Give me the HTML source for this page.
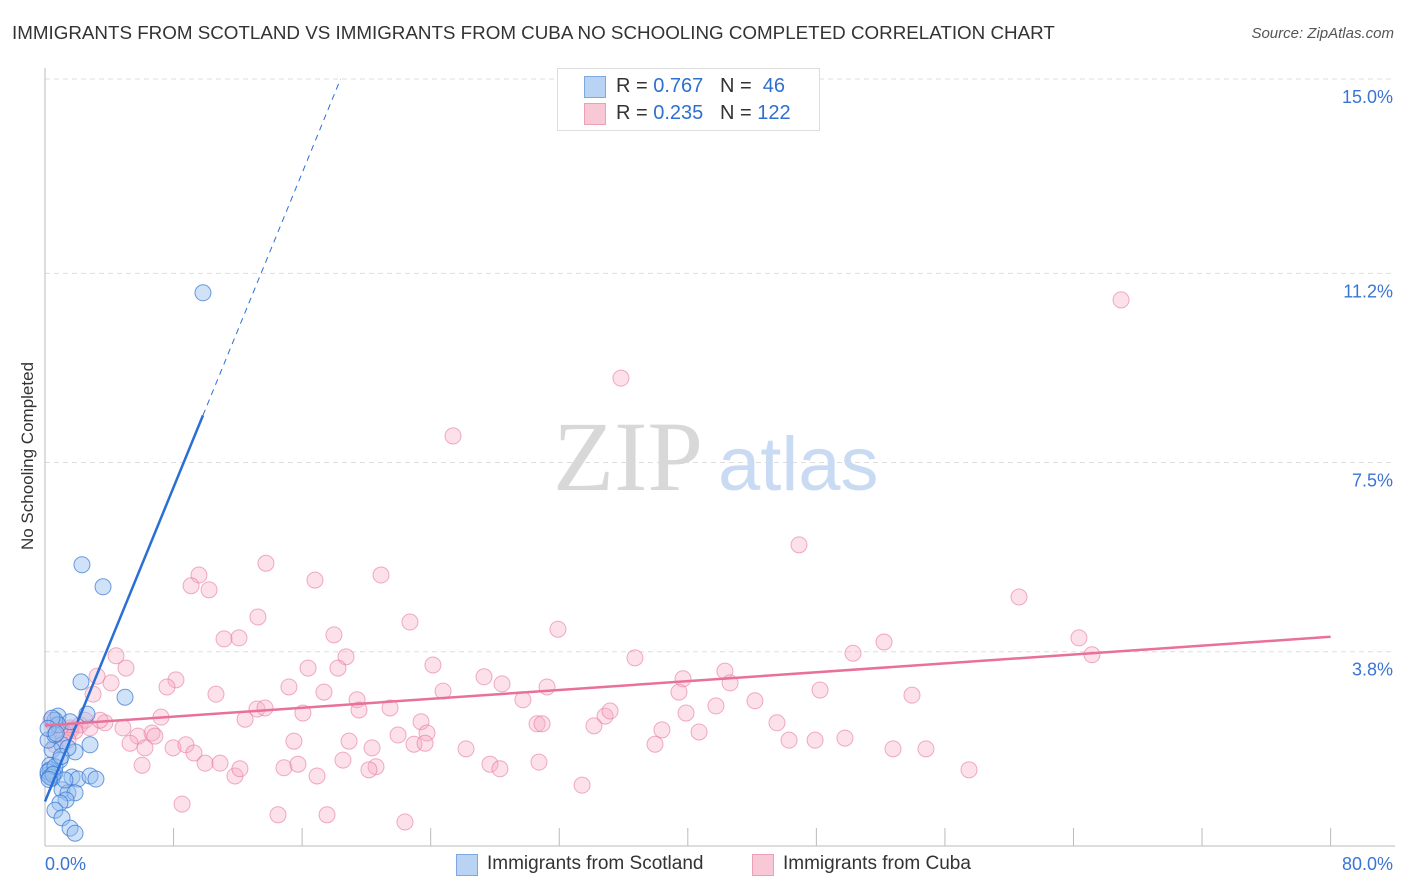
<!DOCTYPE html>
<html><head><meta charset="utf-8"><style>
body{margin:0;background:#fff;font-family:"Liberation Sans",sans-serif;}
#wrap{position:relative;width:1406px;height:892px;overflow:hidden;}
.t{position:absolute;white-space:nowrap;}
</style></head><body>
<div id="wrap">
<div class="t" style="left:12px;top:22px;font-size:18.8px;color:#333;">IMMIGRANTS FROM SCOTLAND VS IMMIGRANTS FROM CUBA NO SCHOOLING COMPLETED CORRELATION CHART</div>
<div class="t" style="right:12px;top:25px;font-size:15px;color:#555;font-style:italic;">Source: ZipAtlas.com</div>
<svg id="svg" width="1406" height="892" style="position:absolute;left:0;top:0"></svg>
<div class="t" style="left:28px;top:456px;font-size:17px;color:#333;transform:translate(-50%,-50%) rotate(-90deg);">No Schooling Completed</div>
<div style="position:absolute;left:557px;top:68px;width:261px;height:61px;border:1px solid #ddd;background:#fff;font-size:20px;">
 <div style="position:absolute;left:26px;top:7px;width:20px;height:20px;background:#b9d3f5;border:1px solid #7fa8e0;"></div>
 <div class="t" style="left:58px;top:6px;color:#333;">R = <span style="color:#2f6fd0">0.767</span>&nbsp;&nbsp;&nbsp;N = &nbsp;<span style="color:#2f6fd0">46</span></div>
 <div style="position:absolute;left:26px;top:34px;width:20px;height:20px;background:#f9c8d6;border:1px solid #eca0b6;"></div>
 <div class="t" style="left:58px;top:33px;color:#333;">R = <span style="color:#2f6fd0">0.235</span>&nbsp;&nbsp;&nbsp;N = <span style="color:#2f6fd0">122</span></div>
</div>
<div style="position:absolute;left:456px;top:852px;font-size:19px;color:#333;">
 <div style="position:absolute;left:0;top:2px;width:20px;height:20px;background:#b9d3f5;border:1px solid #7fa8e0;"></div>
 <div class="t" style="left:31px;top:1px;">Immigrants from Scotland</div>
 <div style="position:absolute;left:296px;top:2px;width:20px;height:20px;background:#f9c8d6;border:1px solid #eca0b6;"></div>
 <div class="t" style="left:327px;top:1px;">Immigrants from Cuba</div>
</div>
</div>
<script>
const yTicks=[3.8,7.5,11.2,15.0];
const yTickLabels=["3.8%","7.5%","11.2%","15.0%"];
const xTicks=[0,8,16,24,32,40,48,56,64,72,80];
const scotX=[9.83,2.30,3.61,2.24,4.98,2.61,0.81,1.56,0.62,2.80,1.06,0.44,1.87,1.43,0.31,0.62,0.19,1.68,2.05,2.80,3.17,0.44,1.06,1.43,1.87,1.31,0.93,0.62,1.06,1.56,1.87,0.19,0.62,0.93,0.31,1.24,0.81,0.19,0.31,0.44,0.62,0.19,1.0,0.5,0.25,0.7];
const scotY=[10.82,5.50,5.07,3.21,2.91,2.58,2.54,2.43,2.46,1.98,1.98,1.88,1.84,1.92,1.58,1.43,1.39,1.35,1.31,1.37,1.31,1.33,1.10,1.04,1.04,0.90,0.84,0.70,0.55,0.35,0.25,2.07,2.17,1.68,1.49,1.29,2.37,1.45,1.35,2.50,1.55,2.30,1.75,1.40,1.30,2.20];
const cubaX=[66.96,35.84,25.39,46.92,13.75,9.58,16.80,20.91,9.09,10.21,60.61,13.25,22.71,31.92,17.98,11.14,12.07,64.34,52.21,4.42,50.28,36.71,65.15,18.73,24.14,5.04,3.24,16.37,18.23,42.31,8.15,27.32,39.70,7.59,15.18,28.44,42.63,31.24,2.99,17.36,24.77,48.23,39.45,10.64,19.42,53.95,29.74,44.18,4.11,13.19,13.69,16.05,21.47,41.75,39.89,34.85,35.16,7.22,12.45,19.54,3.73,23.40,30.62,30.93,34.16,38.39,45.55,4.85,6.66,1.62,5.79,23.77,40.70,5.29,6.84,15.49,18.92,21.97,22.96,23.65,46.30,47.92,49.78,37.96,52.77,54.82,7.97,8.77,9.27,6.22,26.20,20.35,9.96,10.89,11.82,6.04,12.13,14.87,15.74,16.93,18.54,20.60,20.16,27.69,28.31,30.74,57.50,8.53,14.50,17.55,22.40,33.42,0.56,0.93,1.56,2.18,2.49,1.18,1.87,2.80,3.42,0.62,1.43,0.37];
const cubaY=[10.68,9.15,8.02,5.89,5.53,5.30,5.20,5.30,5.09,5.01,4.87,4.48,4.38,4.24,4.13,4.05,4.07,4.07,3.99,3.72,3.77,3.68,3.74,3.70,3.54,3.48,3.32,3.48,3.48,3.42,3.25,3.31,3.27,3.11,3.11,3.17,3.19,3.11,2.97,3.01,3.03,3.05,3.01,2.97,2.86,2.95,2.86,2.84,3.19,2.68,2.70,2.60,2.70,2.74,2.60,2.54,2.64,2.52,2.48,2.66,2.41,2.43,2.39,2.39,2.35,2.27,2.41,2.31,2.21,2.27,2.15,2.21,2.23,2.01,2.15,2.05,2.05,2.17,1.99,2.01,2.07,2.07,2.11,1.99,1.90,1.90,1.92,1.98,1.82,1.92,1.90,1.92,1.62,1.62,1.37,1.58,1.51,1.53,1.60,1.37,1.68,1.55,1.49,1.60,1.51,1.64,1.49,0.82,0.61,0.61,0.47,1.19,2.37,2.31,2.31,2.37,2.46,2.21,2.25,2.31,2.46,1.98,2.07,2.46];
const NS="http://www.w3.org/2000/svg";
const svg=document.getElementById('svg');
const X0=45,XPX=16.07,Y0=846,YPX=51.13;
function sx(v){return X0+v*XPX;}
function sy(v){return Y0-v*YPX;}
function mk(t,a){const e=document.createElementNS(NS,t);for(const k in a)e.setAttribute(k,a[k]);svg.appendChild(e);return e;}
yTicks.forEach((v,i)=>{
 const g=mk('line',{x1:45,x2:1395,y1:sy(v),y2:sy(v),stroke:'#ddd','stroke-dasharray':'5,4'});
 
 
 const t=mk('text',{x:1393,y:sy(v)+24,'text-anchor':'end','font-size':18,fill:'#3a75d4','font-family':'Liberation Sans, sans-serif'});
 t.textContent=yTickLabels[i];
 
 
});
const gx=mk('line',{x1:sx(0),x2:sx(0),y1:68,y2:846,stroke:'#bbb'});


const bx=mk('line',{x1:45,x2:1395,y1:846,y2:846,stroke:'#bbb'});


xTicks.forEach(v=>{if(v===0)return;
 const l=mk('line',{x1:sx(v),x2:sx(v),y1:828,y2:846,stroke:'#bbb'});
 
 
});
[[0,'0.0%','start',45],[80,'80.0%','end',1393]].forEach(a=>{
 const t=mk('text',{x:a[3],y:870,'text-anchor':a[2],'font-size':18,fill:'#3a75d4','font-family':'Liberation Sans, sans-serif'});
 t.textContent=a[1];
 
 
});
const w1=mk('text',{x:553,y:490,'font-size':100,fill:'#d8d8d8','font-family':'Liberation Serif, serif'});
w1.textContent='ZIP';


const w2=mk('text',{x:718,y:490,'font-size':76,fill:'#c9dbf3','font-family':'Liberation Sans, sans-serif'});
w2.textContent='atlas';


function fit(xs,ys){const n=xs.length;let mx=0,my=0;for(let i=0;i<n;i++){mx+=xs[i];my+=ys[i];}mx/=n;my/=n;let sxy=0,sxx=0;for(let i=0;i<n;i++){sxy+=(xs[i]-mx)*(ys[i]-my);sxx+=(xs[i]-mx)**2;}const b=sxy/sxx;return [my-b*mx,b];}
cubaX.forEach((x,i)=>{const c=mk('circle',{cx:sx(x),cy:sy(cubaY[i]),r:8,fill:'rgba(246,170,195,0.35)',stroke:'rgba(232,120,155,0.6)','stroke-width':1});
 
 });
scotX.forEach((x,i)=>{const c=mk('circle',{cx:sx(x),cy:sy(scotY[i]),r:8,fill:'rgba(150,190,240,0.45)',stroke:'rgba(50,115,210,0.7)','stroke-width':1});
 
 });
const fb=fit(scotX,scotY), fc=fit(cubaX,cubaY);
const xmaxS=Math.max(...scotX), xTop=(15.0-fb[0])/fb[1];
const l1=mk('line',{x1:sx(0),y1:sy(fb[0]),x2:sx(xmaxS),y2:sy(fb[0]+fb[1]*xmaxS),stroke:'#2a6fd6','stroke-width':2.5});


const l2=mk('line',{x1:sx(xmaxS),y1:sy(fb[0]+fb[1]*xmaxS),x2:sx(xTop),y2:sy(15.0),stroke:'#2a6fd6','stroke-width':1,'stroke-dasharray':'6,5'});


const l3=mk('line',{x1:sx(0),y1:sy(fc[0]),x2:sx(80),y2:sy(fc[0]+fc[1]*80),stroke:'#e8709a','stroke-width':2.5});


</script>
</body></html>
